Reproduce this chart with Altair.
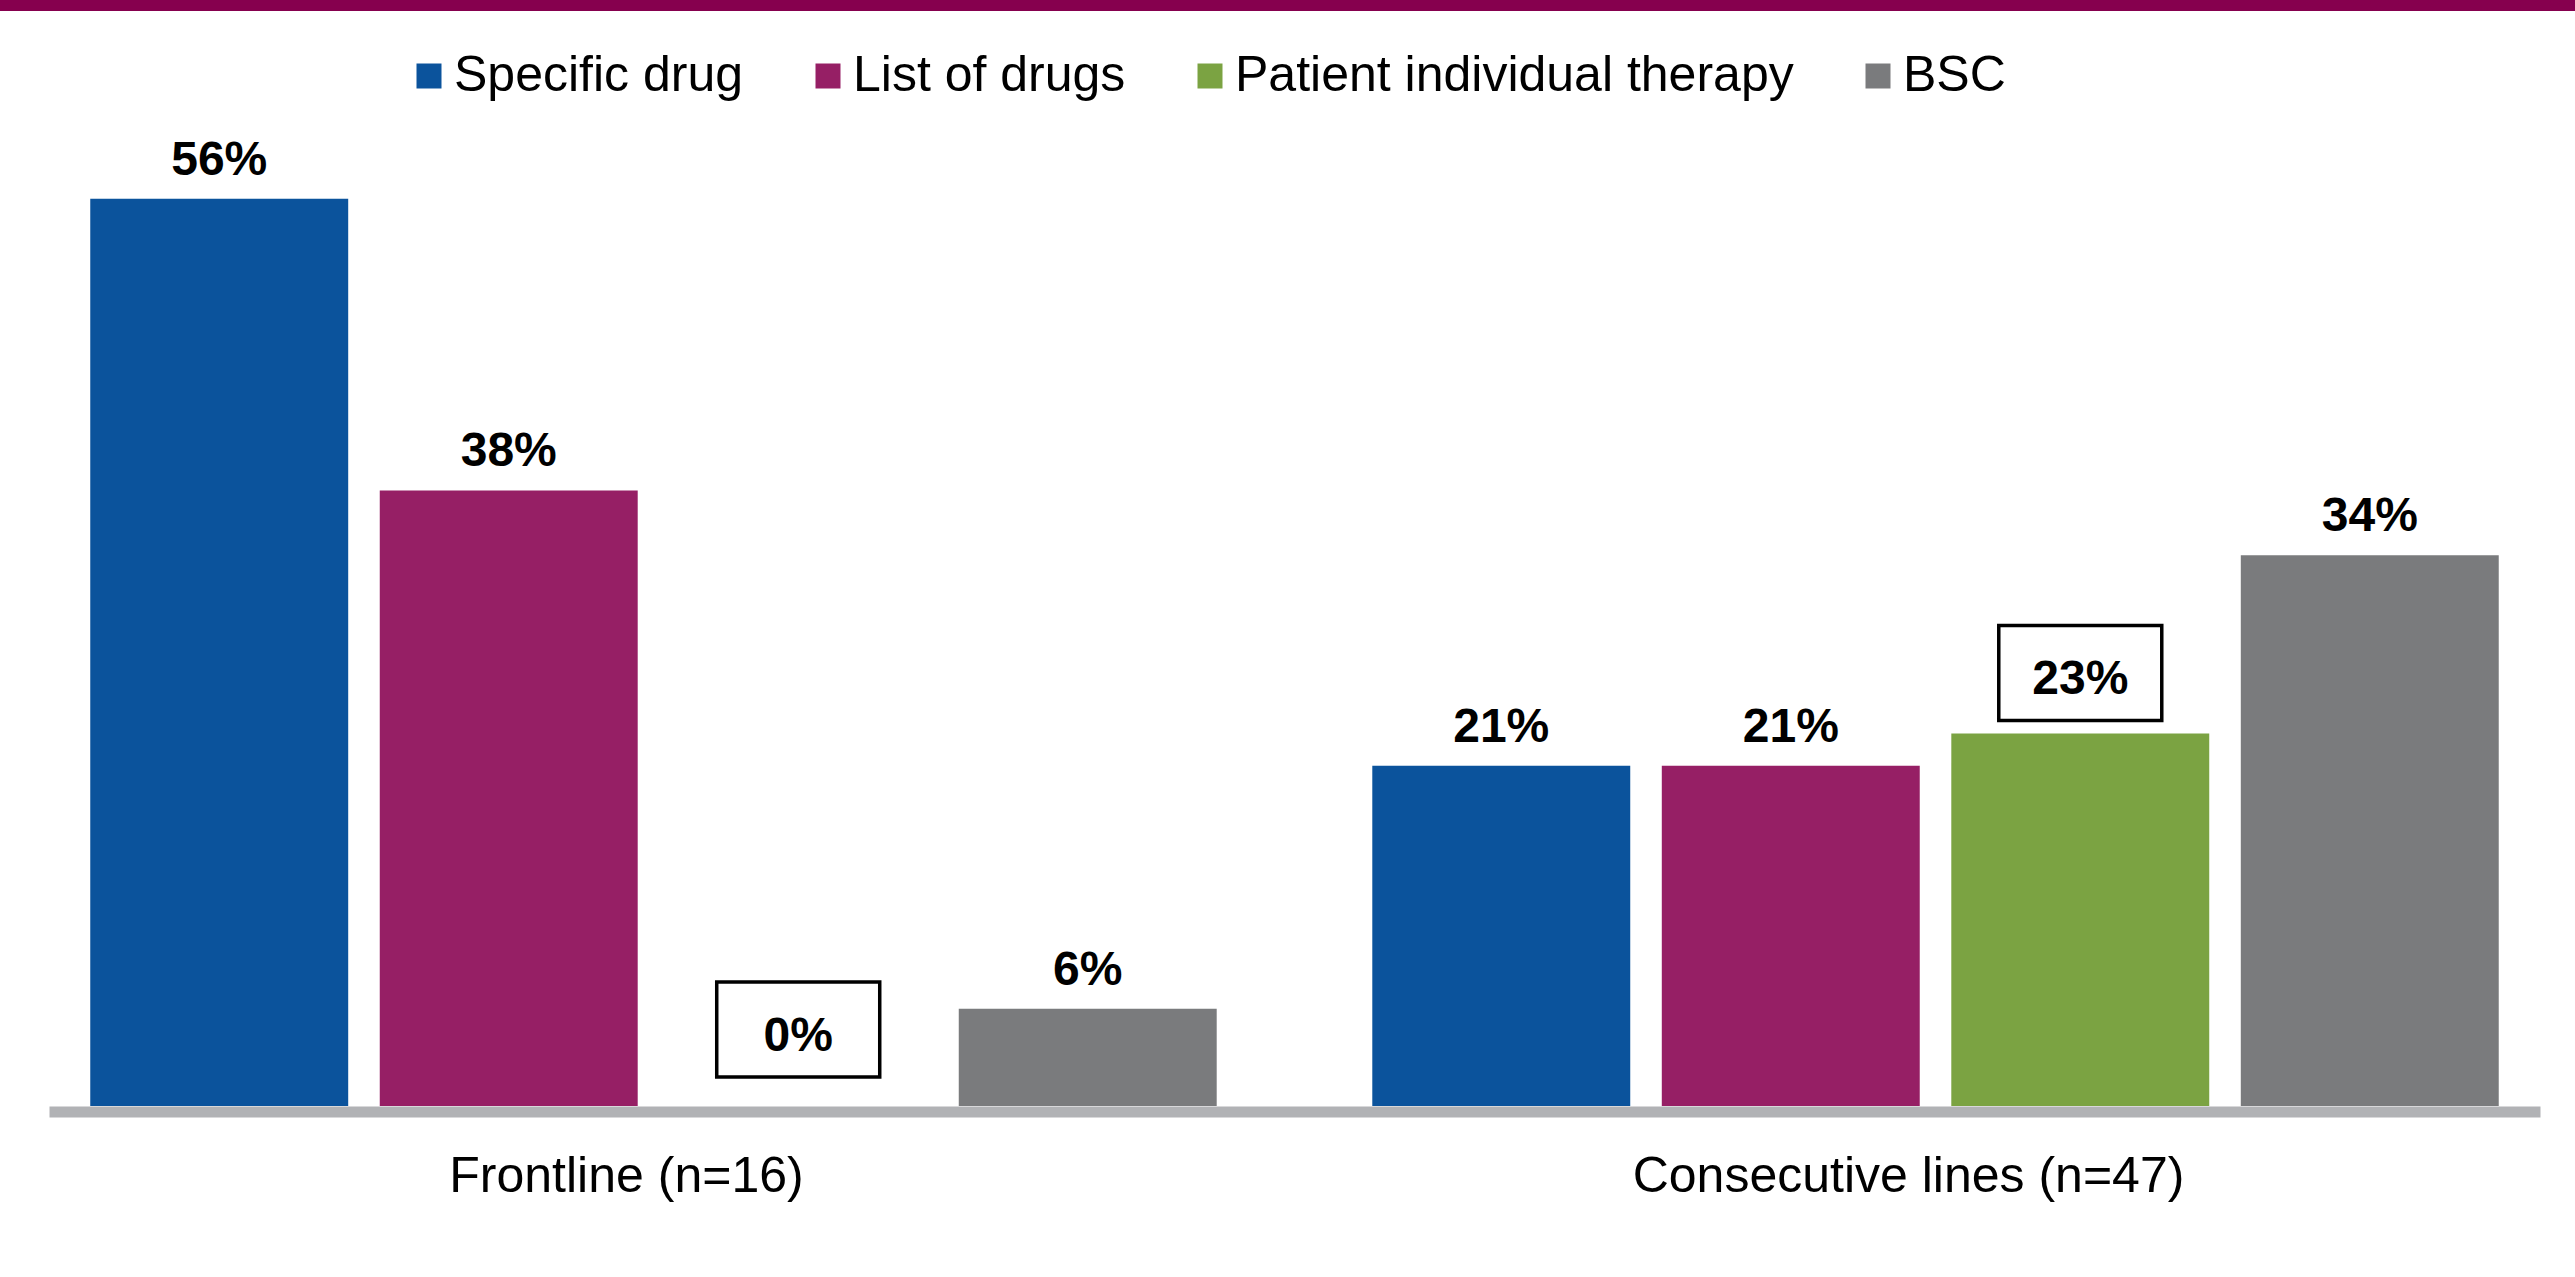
import altair as alt
import pandas as pd

# Share of responses by treatment line
groups = ["Frontline (n=16)", "Consecutive lines (n=47)"]
series = ["Specific drug", "List of drugs", "Patient individual therapy", "BSC"]
frontline = [56, 38, 0, 6]
consecutive = [21, 21, 23, 34]
colors = ["#0B539C", "#961F65", "#7BA342", "#7A7B7D"]

rows = []
for g, vals in zip(groups, [frontline, consecutive]):
    for s, v in zip(series, vals):
        rows.append({"group": g, "series": s, "value": v})
df = pd.DataFrame(rows)

FONT = "Liberation Sans"
GREEN = "Patient individual therapy"

x_scale = alt.Scale(paddingInner=0.057, paddingOuter=0)
x_enc = alt.X(
    "group:N",
    sort=groups,
    scale=x_scale,
    axis=alt.Axis(
        title=None,
        labels=False,
        ticks=False,
        tickSize=0,
        domainColor="#B1B2B5",
        domainWidth=11,
        offset=5.5,
    ),
)
xoff_enc = alt.XOffset(
    "series:N", sort=series, scale=alt.Scale(paddingInner=0.109, paddingOuter=0.1425)
)
y_enc = alt.Y("value:Q", scale=alt.Scale(domain=[0, 60]), axis=None)

base = alt.Chart(df).encode(x=x_enc, xOffset=xoff_enc)

bars = base.mark_bar().encode(
    y=y_enc,
    color=alt.Color(
        "series:N",
        sort=series,
        scale=alt.Scale(domain=series, range=colors),
        legend=alt.Legend(
            orient="none",
            legendX=355,
            legendY=-83,
            direction="horizontal",
            title=None,
            symbolType="square",
            symbolSize=625,
            symbolStrokeWidth=0,
            symbolOpacity=1,
            labelFont=FONT,
            labelFontSize=50,
            labelColor="black",
            labelOffset=0,
            labelLimit=0,
            columnPadding=59,
            padding=0,
        ),
    ),
)

label_style = dict(font=FONT, fontSize=48, fontWeight="bold", color="black",
                   baseline="alphabetic", align="center")

labels = (
    base.transform_filter(alt.datum.series != GREEN)
    .transform_calculate(txt="datum.value + '%'")
    .mark_text(dy=-24, **label_style)
    .encode(y=y_enc, text="txt:N")
)

def boxed(group, top, bottom, text_dy):
    sel = base.transform_filter(
        (alt.datum.series == GREEN) & (alt.datum.group == group)
    )
    box = sel.mark_bar(
        width=163, fill="white", stroke="black", strokeWidth=3.5,
        yOffset=top, y2Offset=bottom,
    ).encode(y=y_enc, y2=alt.Y2("value:Q"))
    txt = (
        sel.transform_calculate(txt="datum.value + '%'")
        .mark_text(dy=text_dy, **label_style)
        .encode(y=y_enc, text="txt:N")
    )
    return box + txt

box1 = boxed(groups[0], -124, -29, -55)
box2 = boxed(groups[1], -108, -13, -39)

# Category names under the baseline
group_labels = (
    alt.Chart(pd.DataFrame({"group": groups}))
    .mark_text(font=FONT, fontSize=50, color="black", baseline="alphabetic",
               align="center", dx=-27)
    .encode(x=alt.X("group:N", sort=groups, scale=x_scale), y=alt.value(1058),
            text="group:N")
)

# Maroon band along the top edge
top_band = (
    alt.Chart(pd.DataFrame({"k": [0]}))
    .mark_rule(color="#86004E", strokeWidth=11)
    .encode(x=alt.value(-49), x2=alt.value(2526), y=alt.value(-128.5))
)

chart = (
    alt.layer(bars, labels, box1, box2, group_labels, top_band)
    .properties(
        width=2491,
        height=972,
        autosize=alt.AutoSizeParams(type="none"),
        padding={"left": 49, "top": 134, "right": 35, "bottom": 171},
        background="white",
    )
    .configure_view(stroke="transparent")
)

chart.save("out.html", embed_options={"renderer": "svg", "actions": False})
